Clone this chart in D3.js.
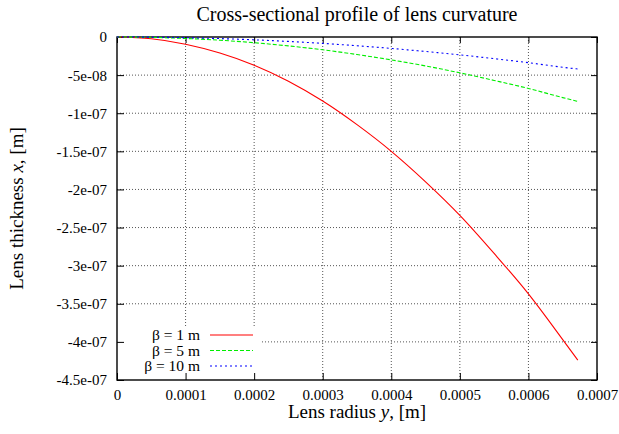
<!DOCTYPE html>
<html>
<head>
<meta charset="utf-8">
<script src="https://cdn.jsdelivr.net/npm/d3@7"></script>
<style>
  body { margin: 0; background: #fff; }
  #chart { width: 619px; height: 434px; }
</style>
</head>
<body>
<div id="chart"></div>
<script>
// lens radius y [m]
const radius = [0, 0.00005, 0.0001, 0.00015, 0.0002, 0.00025, 0.0003, 0.00035,
  0.0004, 0.00045, 0.0005, 0.00055, 0.0006, 0.00065, 0.000672];
// lens thickness x [m], one list per beta
const beta1 = [0, -0.023e-7, -0.094e-7, -0.21e-7, -0.37e-7, -0.58e-7, -0.84e-7, -1.15e-7,
  -1.5e-7, -1.9e-7, -2.34e-7, -2.84e-7, -3.37e-7, -3.97e-7, -4.24e-7];
const beta5 = [0, -0.005e-7, -0.019e-7, -0.042e-7, -0.075e-7, -0.117e-7, -0.168e-7, -0.23e-7,
  -0.3e-7, -0.38e-7, -0.47e-7, -0.57e-7, -0.675e-7, -0.795e-7, -0.845e-7];
const beta10 = [0, -0.002e-7, -0.009e-7, -0.021e-7, -0.037e-7, -0.058e-7, -0.084e-7, -0.115e-7,
  -0.15e-7, -0.19e-7, -0.234e-7, -0.284e-7, -0.337e-7, -0.397e-7, -0.42e-7];

const xTicks = [0, 0.0001, 0.0002, 0.0003, 0.0004, 0.0005, 0.0006, 0.0007];
const xTickLabels = ["0", "0.0001", "0.0002", "0.0003", "0.0004", "0.0005", "0.0006", "0.0007"];
const yTicks = [0, -0.5e-7, -1e-7, -1.5e-7, -2e-7, -2.5e-7, -3e-7, -3.5e-7, -4e-7, -4.5e-7];
const yTickLabels = ["0", "-5e-08", "-1e-07", "-1.5e-07", "-2e-07", "-2.5e-07", "-3e-07",
  "-3.5e-07", "-4e-07", "-4.5e-07"];

const series = [
  { name: "β = 1 m", values: beta1, color: "#ff0000", dash: null },
  { name: "β = 5 m", values: beta5, color: "#00ee00", dash: "4,2" },
  { name: "β = 10 m", values: beta10, color: "#0000ff", dash: "2,3" },
];

const FONT = "'Liberation Serif', 'Times New Roman', serif";
const width = 619, height = 434;
const margin = { left: 117, right: 22, top: 37, bottom: 54 };
const innerWidth = width - margin.left - margin.right;
const innerHeight = height - margin.top - margin.bottom;

const svg = d3.select("#chart").append("svg")
  .attr("width", width).attr("height", height)
  .style("font-family", FONT);

const g = svg.append("g")
  .attr("transform", `translate(${margin.left},${margin.top})`);

const x = d3.scaleLinear().domain([0, 0.0007]).range([0, innerWidth]);
const y = d3.scaleLinear().domain([-4.5e-7, 0]).range([innerHeight, 0]);

// legend box (hides grid behind it)
const legend = { x0: 125, x1: 262, y0: 327, y1: 375 };

// grid
const gridG = g.append("g").attr("class", "grid");
gridG.selectAll(".gx")
  .data(xTicks.slice(1, -1))
  .join("line")
  .attr("x1", d => x(d)).attr("x2", d => x(d))
  .attr("y1", 0)
  .attr("y2", d => (x(d) + margin.left > legend.x0 && x(d) + margin.left < legend.x1)
    ? legend.y0 - margin.top : innerHeight);
gridG.selectAll(".gy")
  .data(yTicks.slice(1, -1))
  .join("line")
  .attr("y1", d => y(d)).attr("y2", d => y(d))
  .attr("x1", d => (y(d) + margin.top > legend.y0 && y(d) + margin.top < legend.y1)
    ? legend.x1 - margin.left : 0)
  .attr("x2", innerWidth);
gridG.selectAll("line")
  .attr("stroke", "#555").attr("stroke-width", 1).attr("stroke-dasharray", "1,2");

// axes with mirrored inward ticks
const fmtX = d => xTickLabels[xTicks.indexOf(d)];
const fmtY = d => yTickLabels[yTicks.indexOf(d)];

const xAxis = d3.axisBottom(x).tickValues(xTicks).tickFormat(fmtX).tickSizeInner(-7).tickSizeOuter(0);
const yAxis = d3.axisLeft(y).tickValues(yTicks).tickFormat(fmtY).tickSizeInner(-7).tickSizeOuter(0);

const xg = g.append("g").attr("transform", `translate(0,${innerHeight})`).call(xAxis);
const yg = g.append("g").call(yAxis);
g.append("g").call(d3.axisTop(x).tickValues(xTicks).tickFormat("").tickSizeInner(-6).tickSizeOuter(0));
g.append("g").attr("transform", `translate(${innerWidth},0)`)
  .call(d3.axisRight(y).tickValues(yTicks).tickFormat("").tickSizeInner(-6).tickSizeOuter(0));

g.selectAll("g").attr("font-family", FONT).attr("font-size", 15);
g.selectAll(".domain").remove();
g.selectAll(".tick line").attr("stroke", "#000").attr("stroke-width", 1);
xg.selectAll("text").attr("y", 20).attr("dy", 0);
yg.selectAll("text").attr("x", -10).attr("dy", "0.33em");

// frame
g.append("rect")
  .attr("width", innerWidth).attr("height", innerHeight)
  .attr("fill", "none").attr("stroke", "#000").attr("stroke-width", 1.4);

// curves
const line = d3.line()
  .x((d, i) => x(radius[i]))
  .y(d => y(d))
  .curve(d3.curveMonotoneX);

g.selectAll(".curve")
  .data(series)
  .join("path")
  .attr("class", "curve")
  .attr("fill", "none")
  .attr("stroke", d => d.color)
  .attr("stroke-width", 1.1)
  .attr("stroke-dasharray", d => d.dash)
  .attr("d", d => line(d.values));

// legend
const lg = svg.append("g");
series.forEach((s, i) => {
  const yy = 335 + i * 15.5;
  lg.append("text")
    .attr("x", 200).attr("y", yy).attr("dy", "0.35em")
    .attr("text-anchor", "end")
    .attr("font-size", 15.5)
    .text(s.name);
  lg.append("line")
    .attr("x1", 210).attr("x2", 253)
    .attr("y1", yy).attr("y2", yy)
    .attr("stroke", s.color).attr("stroke-width", 1.1)
    .attr("stroke-dasharray", s.dash);
});

// titles
svg.append("text")
  .attr("x", 357).attr("y", 21)
  .attr("text-anchor", "middle")
  .attr("font-size", 20)
  .text("Cross-sectional profile of lens curvature");

const xl = svg.append("text")
  .attr("x", 357).attr("y", 418)
  .attr("text-anchor", "middle")
  .attr("font-size", 19);
xl.append("tspan").text("Lens radius ");
xl.append("tspan").attr("font-style", "italic").text("y");
xl.append("tspan").text(", [m]");

const yl = svg.append("text")
  .attr("transform", "translate(23,208.5) rotate(-90)")
  .attr("text-anchor", "middle")
  .attr("font-size", 19);
yl.append("tspan").text("Lens thickness ");
yl.append("tspan").attr("font-style", "italic").text("x");
yl.append("tspan").text(", [m]");
</script>
</body>
</html>
